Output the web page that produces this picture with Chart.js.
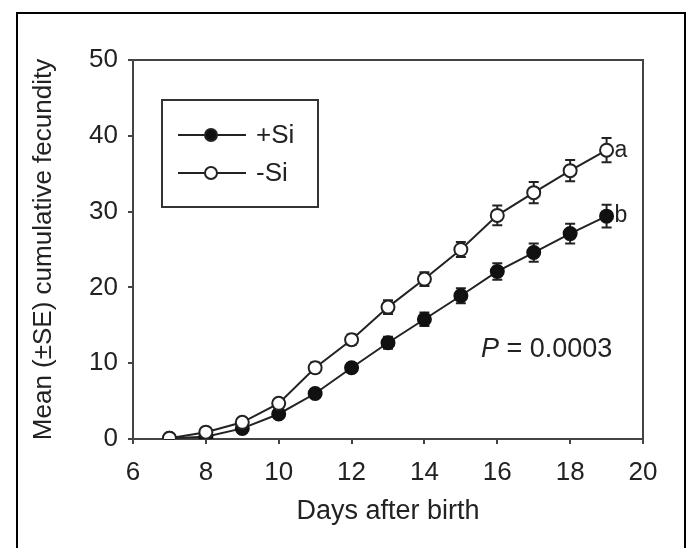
<!DOCTYPE html>
<html>
<head>
<meta charset="utf-8">
<script src="https://cdn.jsdelivr.net/npm/chart.js@4"></script>
<style>
  body { margin: 0; background: #fff; overflow: hidden; }
  #frame { position: absolute; left: 16px; top: 12px; width: 666px; height: 600px; border: 2px solid #000; }
  #wrap { position: absolute; left: 0; top: 0; width: 689px; height: 548px; }
</style>
</head>
<body>
<div id="frame"></div>
<div id="wrap"><canvas id="fecundityChart" width="689" height="548"></canvas></div>
<script>
// days after birth
const days = [7, 8, 9, 10, 11, 12, 13, 14, 15, 16, 17, 18, 19];
// mean cumulative fecundity and SE
const plusSi = [0.1, 0.3, 1.4, 3.3, 6.0, 9.4, 12.7, 15.8, 18.9, 22.1, 24.6, 27.1, 29.4];
const plusSiSE = [0.1, 0.2, 0.3, 0.5, 0.5, 0.6, 0.8, 0.9, 1.0, 1.1, 1.2, 1.3, 1.5];
const minusSi = [0.1, 0.9, 2.2, 4.7, 9.4, 13.1, 17.4, 21.1, 25.0, 29.5, 32.5, 35.4, 38.1];
const minusSiSE = [0.1, 0.2, 0.3, 0.5, 0.7, 0.7, 0.9, 0.9, 1.0, 1.3, 1.4, 1.4, 1.6];
const xTicks = [6, 8, 10, 12, 14, 16, 18, 20];
const yTicks = [0, 10, 20, 30, 40, 50];
const groupLetters = ['b', 'a'];
const pText = '0.0003';

const FONT = "'Liberation Sans', Arial, sans-serif";
const INK = '#222';

function toPoints(ys) {
    return days.map((d, i) => ({ x: d, y: ys[i] }));
}

// vertical error bars with caps
const errorBars = {
    id: 'errorBars',
    beforeDatasetsDraw(chart) {
        const ctx = chart.ctx;
        const xs = chart.scales.x, ys = chart.scales.y;
        ctx.save();
        ctx.strokeStyle = '#222';
        ctx.lineWidth = 2;
        chart.data.datasets.forEach(ds => {
            ds.data.forEach((p, i) => {
                const se = ds.se[i];
                const px = xs.getPixelForValue(p.x);
                const top = ys.getPixelForValue(p.y + se);
                const bot = ys.getPixelForValue(p.y - se);
                ctx.beginPath();
                ctx.moveTo(px, top); ctx.lineTo(px, bot);
                ctx.moveTo(px - 5, top); ctx.lineTo(px + 5, top);
                ctx.moveTo(px - 5, bot); ctx.lineTo(px + 5, bot);
                ctx.stroke();
            });
        });
        ctx.restore();
    }
};

// plot frame, legend box, letters and P value
const extras = {
    id: 'extras',
    afterDraw(chart) {
        const ctx = chart.ctx;
        const a = chart.chartArea;
        const xs = chart.scales.x, ys = chart.scales.y;
        ctx.save();
        ctx.strokeStyle = '#444';
        ctx.lineWidth = 2;
        ctx.beginPath();
        ctx.moveTo(a.left, a.top); ctx.lineTo(a.right, a.top); ctx.lineTo(a.right, a.bottom);
        ctx.stroke();

        // group letters next to last points
        ctx.fillStyle = INK;
        ctx.font = '23px ' + FONT;
        ctx.textBaseline = 'middle';
        ctx.textAlign = 'left';
        chart.data.datasets.forEach(ds => {
            const last = ds.data[ds.data.length - 1];
            ctx.fillText(ds.letter, xs.getPixelForValue(last.x) + 8, ys.getPixelForValue(last.y));
        });

        // P value
        const px = xs.getPixelForValue(15.55), py = ys.getPixelForValue(11.8);
        ctx.font = 'italic 27px ' + FONT;
        ctx.fillText('P', px, py);
        const w = ctx.measureText('P ').width;
        ctx.font = '27px ' + FONT;
        ctx.fillText('= ' + pText, px + w, py);

        // legend box
        ctx.strokeStyle = '#333';
        ctx.lineWidth = 2;
        ctx.strokeRect(162, 100, 156, 107);
        const rows = [chart.data.datasets[0], chart.data.datasets[1]];
        rows.forEach((ds, r) => {
            const y = 135 + r * 38;
            ctx.strokeStyle = '#222';
            ctx.lineWidth = 2;
            ctx.beginPath();
            ctx.moveTo(178, y); ctx.lineTo(246, y);
            ctx.stroke();
            ctx.beginPath();
            ctx.arc(211, y, 6, 0, Math.PI * 2);
            ctx.fillStyle = ds.pointBackgroundColor;
            ctx.fill();
            ctx.stroke();
            ctx.fillStyle = INK;
            ctx.font = '26px ' + FONT;
            ctx.fillText(ds.label, 256, y + 1);
        });
        ctx.restore();
    }
};

const ctx = document.getElementById('fecundityChart').getContext('2d');
const fecundityChart = new Chart(ctx, {
    type: 'line',
    data: {
        datasets: [{
            label: '+Si',
            data: toPoints(plusSi),
            se: plusSiSE,
            letter: groupLetters[0],
            borderColor: '#222',
            borderWidth: 2,
            pointBackgroundColor: '#111',
            pointBorderColor: '#111',
            pointRadius: 6.5,
            pointBorderWidth: 2,
            order: 2
        }, {
            label: '-Si',
            data: toPoints(minusSi),
            se: minusSiSE,
            letter: groupLetters[1],
            borderColor: '#222',
            borderWidth: 2,
            pointBackgroundColor: '#fff',
            pointBorderColor: '#222',
            pointRadius: 6.5,
            pointBorderWidth: 2,
            order: 1
        }]
    },
    options: {
        responsive: false,
        animation: false,
        layout: { padding: { left: 18, top: 60, right: 46, bottom: 0 } },
        plugins: {
            legend: { display: false },
            tooltip: { enabled: false }
        },
        scales: {
            x: {
                type: 'linear',
                min: 6,
                max: 20,
                afterBuildTicks: s => { s.ticks = xTicks.map(v => ({ value: v })); },
                afterFit: s => { s.height = 109; },
                grid: { drawOnChartArea: false, drawTicks: true, tickLength: 5, color: '#444', lineWidth: 2 },
                border: { display: true, color: '#444', width: 2 },
                ticks: { color: INK, padding: 13, maxRotation: 0, font: { family: FONT, size: 26 } },
                title: {
                    display: true,
                    text: 'Days after birth',
                    color: INK,
                    font: { family: FONT, size: 27 },
                    padding: { top: 4, bottom: 20 }
                }
            },
            y: {
                min: 0,
                max: 50,
                afterBuildTicks: s => { s.ticks = yTicks.map(v => ({ value: v })); },
                afterFit: s => { s.width = 115; },
                grid: { drawOnChartArea: false, drawTicks: true, tickLength: 5, color: '#444', lineWidth: 2 },
                border: { display: true, color: '#444', width: 2 },
                ticks: { color: INK, padding: 10, font: { family: FONT, size: 26 } },
                title: {
                    display: true,
                    text: 'Mean (±SE) cumulative fecundity',
                    color: INK,
                    font: { family: FONT, size: 26 },
                    padding: { top: 10, bottom: 4 }
                }
            }
        }
    },
    plugins: [errorBars, extras]
});
</script>
</body>
</html>
